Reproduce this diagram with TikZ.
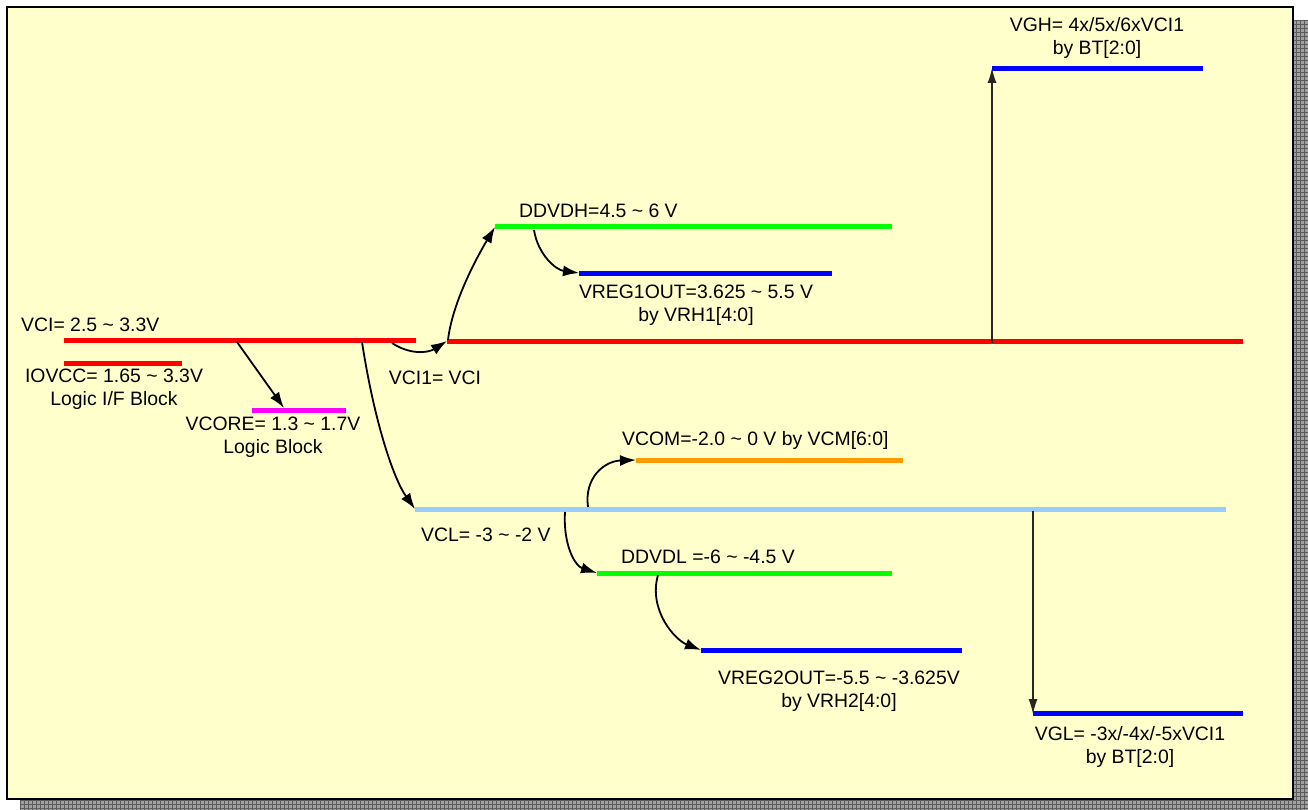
\documentclass[tikz,border=0pt]{standalone}
\usepackage{fontspec}
\setmainfont{Liberation Sans}
\usetikzlibrary{arrows.meta}
\definecolor{bg}{HTML}{FFFFCC}
\definecolor{shadowfill}{HTML}{A0A0A0}
\definecolor{shadowline}{HTML}{5C5C5C}
\definecolor{lblue}{HTML}{99CCFF}
\definecolor{vorange}{HTML}{FF9900}
\definecolor{vgreen}{HTML}{00FF00}
\definecolor{vblue}{HTML}{0000FF}
\definecolor{vred}{HTML}{FF0000}
\definecolor{vmag}{HTML}{FF00FF}
\begin{document}
\begin{tikzpicture}[x=1pt,y=-1pt,
  bar/.style={line width=5pt, line cap=butt},
  lbl/.style={font=\fontsize{19.4}{23}\selectfont, inner sep=0pt, align=center},
  conn/.style={line width=1.8pt, -{Latex[length=16pt,width=11pt]}},
  vconn/.style={line width=1.3pt, draw=black!85, -{Latex[length=15pt,width=9pt]}}]
\useasboundingbox (0,0) rectangle (1308,810);
% shadow
\begin{scope}
\clip (20,20) rectangle (1308,810);
\fill[shadowfill] (20,20) rectangle (1308,810);
\draw[shadowline, line width=0.9pt, step=4pt] (20,20) grid (1308,810);
\end{scope}
% frame
\draw[line width=2.5pt, fill=bg] (7,7) rectangle (1293,799);

% bar end coordinates
\coordinate (vciL) at (64,340);   \coordinate (vciR) at (416,340);
\coordinate (ioL) at (64,363);    \coordinate (ioR) at (182,363);
\coordinate (coreL) at (252,410); \coordinate (coreR) at (346,410);
\coordinate (vci1L) at (447,341); \coordinate (vci1R) at (1243,341);
\coordinate (dhL) at (495,227);   \coordinate (dhR) at (892,227);
\coordinate (r1L) at (579,273);   \coordinate (r1R) at (832,273);
\coordinate (vghL) at (992,69);   \coordinate (vghR) at (1203,69);
\coordinate (vclL) at (415,509);  \coordinate (vclR) at (1226,509);
\coordinate (comL) at (636,460);  \coordinate (comR) at (903,460);
\coordinate (dlL) at (597,573);   \coordinate (dlR) at (892,573);
\coordinate (r2L) at (701,650);   \coordinate (r2R) at (962,650);
\coordinate (vglL) at (1033,713); \coordinate (vglR) at (1243,713);

% bars
\draw[bar, vred] (vciL) -- (vciR);
\draw[bar, vred] (ioL) -- (ioR);
\draw[bar, vmag] (coreL) -- (coreR);
\draw[bar, vred] (vci1L) -- (vci1R);
\draw[bar, vgreen] (dhL) -- (dhR);
\draw[bar, vblue] (r1L) -- (r1R);
\draw[bar, vblue] (vghL) -- (vghR);
\draw[bar, lblue] (vclL) -- (vclR);
\draw[bar, vorange] (comL) -- (comR);
\draw[bar, vgreen] (dlL) -- (dlR);
\draw[bar, vblue] (r2L) -- (r2R);
\draw[bar, vblue] (vglL) -- (vglR);

% connector start points
\coordinate (s1) at (237,342);
\coordinate (e1) at (284,408);
\coordinate (s2) at (362,342);
\coordinate (s3) at (392,343);
\coordinate (s4) at (448,340);
\coordinate (s5) at (534,230);
\coordinate (s6) at (992,343);
\coordinate (e6) at (992,68);
\coordinate (s7) at (588,507);
\coordinate (s8) at (565,512);
\coordinate (s9) at (658,575);
\coordinate (s10) at (1033,511);
\coordinate (e10) at (1033,714);

% connectors
\draw[conn] (s1) -- (e1);
\draw[conn] (s2) .. controls (374,420) and (393,478) .. (vclL);
\draw[conn] (s3) .. controls (410,355) and (428,353) .. (vci1L);
\draw[conn] (s4) .. controls (452,305) and (474,262) .. (dhL);
\draw[conn] (s5) .. controls (538,255) and (556,270) .. (r1L);
\draw[vconn] (s6) -- (e6);
\draw[conn] (s7) .. controls (584,478) and (604,461) .. (comL);
\draw[conn] (s8) .. controls (563,545) and (575,566) .. (dlL);
\draw[conn] (s9) .. controls (648,610) and (675,640) .. (r2L);
\draw[vconn] (s10) -- (e10);

% labels
\node[lbl, anchor=west] (tvci) at (21,325) {VCI= 2.5 \textasciitilde{} 3.3V};
\node[lbl] (tio) at (114,389) {IOVCC= 1.65 \textasciitilde{} 3.3V\\Logic I/F Block};
\node[lbl] (tcore) at (273,437) {VCORE= 1.3 \textasciitilde{} 1.7V\\Logic Block};
\node[lbl] (tvci1) at (435,378) {VCI1= VCI};
\node[lbl, anchor=west] (tdh) at (519,211) {DDVDH=4.5 \textasciitilde{} 6 V};
\node[lbl] (tr1) at (696,305) {VREG1OUT=3.625 \textasciitilde{} 5.5 V\\by VRH1[4:0]};
\node[lbl] (tvgh) at (1097,38) {VGH= 4x/5x/6xVCI1\\by BT[2:0]};
\node[lbl, anchor=west] (tcom) at (622,440) {VCOM=-2.0 \textasciitilde{} 0 V by VCM[6:0]};
\node[lbl, anchor=west] (tvcl) at (421,535) {VCL= -3 \textasciitilde{} -2 V};
\node[lbl, anchor=west] (tdl) at (621,557) {DDVDL =-6 \textasciitilde{} -4.5 V};
\node[lbl] (tr2) at (839,691) {VREG2OUT=-5.5 \textasciitilde{} -3.625V\\by VRH2[4:0]};
\node[lbl] (tvgl) at (1130,747) {VGL= -3x/-4x/-5xVCI1\\by BT[2:0]};
\end{tikzpicture}
\end{document}
